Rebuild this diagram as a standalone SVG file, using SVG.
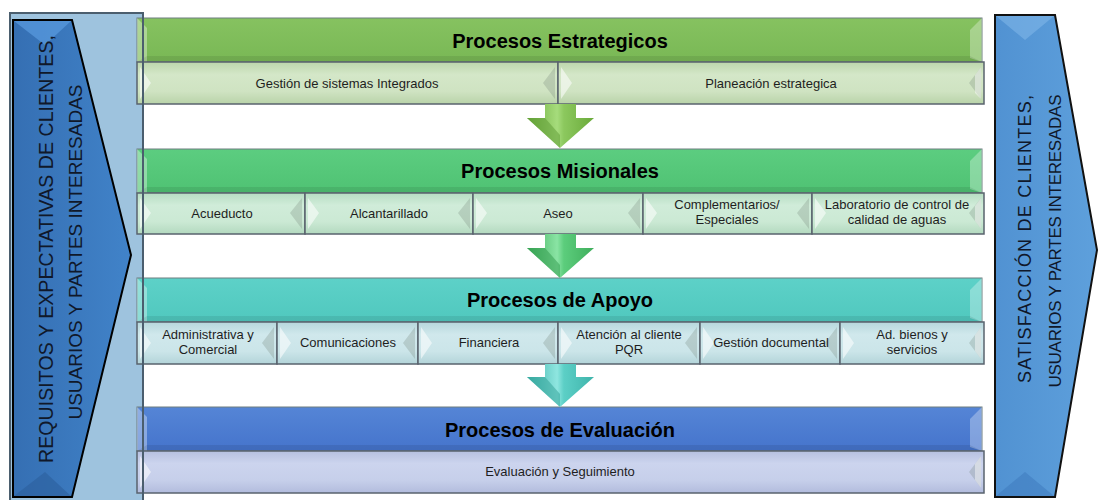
<svg xmlns="http://www.w3.org/2000/svg" width="1100" height="500" viewBox="0 0 1100 500">
<defs>
<style>
.hdrT{font-family:"Liberation Sans",Arial,sans-serif;font-weight:bold;font-size:20px;fill:#000;text-anchor:middle}
.subT{font-family:"Liberation Sans",Arial,sans-serif;font-size:13px;fill:#1e1e1e;text-anchor:middle}
.sideT{font-family:"Liberation Sans",Arial,sans-serif;fill:#10182a;text-anchor:middle}
.hdr{stroke:#6e7f80;stroke-width:1}
.sub{stroke:#59636e;stroke-width:1.5}
.bevL{fill:#ffffff;opacity:0.55}
.bevR{fill:#6a7a70;opacity:0.25}
.bevRl{fill:#ffffff;opacity:0.45}
.hbevL{fill:#ffffff;opacity:0.35}
.hbevR{fill:#ffffff;opacity:0.3}
.hbevB{fill:#000000;opacity:0.08}
</style>
<linearGradient id="gH1" x1="0" y1="0" x2="0" y2="1"><stop offset="0" stop-color="#86c260"/><stop offset="1" stop-color="#79b855"/></linearGradient>
<linearGradient id="gH2" x1="0" y1="0" x2="0" y2="1"><stop offset="0" stop-color="#5ccd80"/><stop offset="1" stop-color="#4fc273"/></linearGradient>
<linearGradient id="gH3" x1="0" y1="0" x2="0" y2="1"><stop offset="0" stop-color="#5dd1c8"/><stop offset="1" stop-color="#50c8be"/></linearGradient>
<linearGradient id="gH4" x1="0" y1="0" x2="0" y2="1"><stop offset="0" stop-color="#5585d6"/><stop offset="1" stop-color="#4574cc"/></linearGradient>
<linearGradient id="gS1" x1="0" y1="0" x2="0" y2="1"><stop offset="0" stop-color="#bcd6ac"/><stop offset="0.3" stop-color="#d4e7c8"/><stop offset="0.7" stop-color="#cfe3c2"/><stop offset="1" stop-color="#b9d3a9"/></linearGradient>
<linearGradient id="gS2" x1="0" y1="0" x2="0" y2="1"><stop offset="0" stop-color="#b6ddc2"/><stop offset="0.3" stop-color="#d0ecd9"/><stop offset="0.7" stop-color="#cbe9d4"/><stop offset="1" stop-color="#b3d9bf"/></linearGradient>
<linearGradient id="gS3" x1="0" y1="0" x2="0" y2="1"><stop offset="0" stop-color="#b6d7dc"/><stop offset="0.3" stop-color="#d0e8ec"/><stop offset="0.7" stop-color="#cbe5e9"/><stop offset="1" stop-color="#b3d4d9"/></linearGradient>
<linearGradient id="gS4" x1="0" y1="0" x2="0" y2="1"><stop offset="0" stop-color="#b6c0e0"/><stop offset="0.3" stop-color="#ccd4ee"/><stop offset="0.7" stop-color="#c6cfea"/><stop offset="1" stop-color="#b2bcdd"/></linearGradient>
<linearGradient id="gLP" x1="0" y1="0" x2="1" y2="0"><stop offset="0" stop-color="#356fb3"/><stop offset="1" stop-color="#4183c9"/></linearGradient>
<linearGradient id="gRP" x1="0" y1="0" x2="1" y2="0"><stop offset="0" stop-color="#5192d2"/><stop offset="1" stop-color="#5ea0dc"/></linearGradient>
<linearGradient id="gA1" x1="0" y1="0" x2="1" y2="0"><stop offset="0" stop-color="#6aaa3a"/><stop offset="0.45" stop-color="#a6dc7c"/><stop offset="0.55" stop-color="#8cc85e"/><stop offset="1" stop-color="#6aaa3a"/></linearGradient>
<linearGradient id="gA2" x1="0" y1="0" x2="1" y2="0"><stop offset="0" stop-color="#3fae5c"/><stop offset="0.45" stop-color="#8ae4a4"/><stop offset="0.55" stop-color="#5ccd7c"/><stop offset="1" stop-color="#3fae5c"/></linearGradient>
<linearGradient id="gA3" x1="0" y1="0" x2="1" y2="0"><stop offset="0" stop-color="#3fb4ab"/><stop offset="0.45" stop-color="#8fe6e0"/><stop offset="0.55" stop-color="#5ccfc6"/><stop offset="1" stop-color="#3fb4ab"/></linearGradient>
</defs>
<rect x="0" y="0" width="1100" height="500" fill="#ffffff"/>

<g id="left-panel">
<rect x="10" y="13" width="133" height="490" fill="#9ec3de"/>
<polygon points="13,20 72,20 131,255 72,497 13,497" fill="url(#gLP)" stroke="#000" stroke-width="2"/>
<polygon points="14,21 71,21 45,45" fill="#5a9be0" opacity="0.7"/>
<polygon points="14,496 71,496 45,472" fill="#2c5f9c" opacity="0.6"/>
<text class="sideT" font-size="19.5" transform="translate(53,249) rotate(-90)" textLength="428" lengthAdjust="spacing">REQUISITOS Y EXPECTATIVAS DE CLIENTES,</text>
<text class="sideT" font-size="19" transform="translate(82,252) rotate(-90)" textLength="335" lengthAdjust="spacing">USUARIOS Y PARTES INTERESADAS</text>
</g>

<g id="right-panel">
<polygon points="995,15 1055,15 1097,250 1055,497 995,497" fill="url(#gRP)" stroke="#111" stroke-width="2"/>
<polygon points="996,16 1054,16 1025,40" fill="#7fb6e8" opacity="0.6"/>
<polygon points="996,496 1054,496 1025,472" fill="#3b78bb" opacity="0.5"/>
<text class="sideT" font-size="18" transform="translate(1031,239) rotate(-90)" textLength="288" lengthAdjust="spacing">SATISFACCIÓN DE CLIENTES,</text>
<text class="sideT" font-size="17" transform="translate(1061,241) rotate(-90)" textLength="293" lengthAdjust="spacing">USUARIOS Y PARTES INTERESADAS</text>
</g>

<g id="estrategicos">
<rect class="hdr" x="137" y="18" width="845" height="44" fill="url(#gH1)"/>
<polygon class="hbevL" points="137,18 147,28 147,62 137,62"/>
<polygon class="hbevR" points="982,18 970,30 970,58 982,62"/>
<polygon class="hbevB" points="137,62 147,56 970,56 982,62"/>
<text class="hdrT" x="560" y="48">Procesos Estrategicos</text>
<g id="gestion-sistemas">
<rect class="sub" x="137" y="62" width="421" height="42" fill="url(#gS1)"/>
<polygon class="bevL" points="140,67 151,83 140,99"/>
<polygon class="bevR" points="555,67 543,83 555,99"/>
<text class="subT" x="347" y="88">Gestión de sistemas Integrados</text>
</g>
<g id="planeacion">
<rect class="sub" x="558" y="62" width="426" height="42" fill="url(#gS1)"/>
<polygon class="bevL" points="561,67 572,83 561,99"/>
<polygon class="bevR" points="981,67 969,83 981,99"/>
<polygon class="bevRl" points="981,67 975,75 975,93 981,99"/>
<text class="subT" x="771" y="88">Planeación estrategica</text>
</g>
</g>

<g id="misionales">
<rect class="hdr" x="137" y="149" width="845" height="44" fill="url(#gH2)"/>
<polygon class="hbevL" points="137,149 147,159 147,193 137,193"/>
<polygon class="hbevR" points="982,149 970,161 970,189 982,193"/>
<polygon class="hbevB" points="137,193 147,187 970,187 982,193"/>
<text class="hdrT" x="560" y="178">Procesos Misionales</text>
<g id="acueducto">
<rect class="sub" x="137" y="193" width="168" height="41" fill="url(#gS2)"/>
<polygon class="bevL" points="140,198 151,213 140,229"/>
<polygon class="bevR" points="302,198 290,213 302,229"/>
<text class="subT" x="222" y="218">Acueducto</text>
</g>
<g id="alcantarillado">
<rect class="sub" x="305" y="193" width="168" height="41" fill="url(#gS2)"/>
<polygon class="bevL" points="308,198 319,213 308,229"/>
<polygon class="bevR" points="470,198 458,213 470,229"/>
<text class="subT" x="389" y="218">Alcantarillado</text>
</g>
<g id="aseo">
<rect class="sub" x="473" y="193" width="170" height="41" fill="url(#gS2)"/>
<polygon class="bevL" points="476,198 487,213 476,229"/>
<polygon class="bevR" points="640,198 628,213 640,229"/>
<text class="subT" x="558" y="218">Aseo</text>
</g>
<g id="complementarios">
<rect class="sub" x="643" y="193" width="169" height="41" fill="url(#gS2)"/>
<polygon class="bevL" points="646,198 657,213 646,229"/>
<polygon class="bevR" points="809,198 797,213 809,229"/>
<text class="subT" x="727" y="209">Complementarios/</text>
<text class="subT" x="727" y="224">Especiales</text>
</g>
<g id="laboratorio">
<rect class="sub" x="812" y="193" width="172" height="41" fill="url(#gS2)"/>
<polygon class="bevL" points="815,198 826,213 815,229"/>
<polygon class="bevR" points="981,198 969,213 981,229"/>
<polygon class="bevRl" points="981,198 975,206 975,221 981,229"/>
<text class="subT" x="897" y="209">Laboratorio de control de</text>
<text class="subT" x="897" y="224">calidad de aguas</text>
</g>
</g>

<g id="apoyo">
<rect class="hdr" x="137" y="278" width="845" height="44" fill="url(#gH3)"/>
<polygon class="hbevL" points="137,278 147,288 147,322 137,322"/>
<polygon class="hbevR" points="982,278 970,290 970,318 982,322"/>
<polygon class="hbevB" points="137,322 147,316 970,316 982,322"/>
<text class="hdrT" x="560" y="307">Procesos de Apoyo</text>
<g id="administrativa">
<rect class="sub" x="137" y="322" width="140" height="42" fill="url(#gS3)"/>
<polygon class="bevL" points="140,327 151,343 140,359"/>
<polygon class="bevR" points="274,327 262,343 274,359"/>
<text class="subT" x="208" y="339">Administrativa y</text>
<text class="subT" x="208" y="354">Comercial</text>
</g>
<g id="comunicaciones">
<rect class="sub" x="277" y="322" width="141" height="42" fill="url(#gS3)"/>
<polygon class="bevL" points="280,327 291,343 280,359"/>
<polygon class="bevR" points="415,327 403,343 415,359"/>
<text class="subT" x="348" y="347">Comunicaciones</text>
</g>
<g id="financiera">
<rect class="sub" x="418" y="322" width="140" height="42" fill="url(#gS3)"/>
<polygon class="bevL" points="421,327 432,343 421,359"/>
<polygon class="bevR" points="555,327 543,343 555,359"/>
<text class="subT" x="489" y="347">Financiera</text>
</g>
<g id="atencion">
<rect class="sub" x="558" y="322" width="142" height="42" fill="url(#gS3)"/>
<polygon class="bevL" points="561,327 572,343 561,359"/>
<polygon class="bevR" points="697,327 685,343 697,359"/>
<text class="subT" x="629" y="339">Atención al cliente</text>
<text class="subT" x="629" y="354">PQR</text>
</g>
<g id="gestion-documental">
<rect class="sub" x="700" y="322" width="140" height="42" fill="url(#gS3)"/>
<polygon class="bevL" points="703,327 714,343 703,359"/>
<polygon class="bevR" points="837,327 825,343 837,359"/>
<text class="subT" x="771" y="347">Gestión documental</text>
</g>
<g id="bienos-servicios">
<rect class="sub" x="840" y="322" width="144" height="42" fill="url(#gS3)"/>
<polygon class="bevL" points="843,327 854,343 843,359"/>
<polygon class="bevR" points="981,327 969,343 981,359"/>
<polygon class="bevRl" points="981,327 975,335 975,351 981,359"/>
<text class="subT" x="912" y="339">Ad. bienos y</text>
<text class="subT" x="912" y="354">servicios</text>
</g>
</g>

<g id="evaluacion">
<rect class="hdr" x="137" y="407" width="845" height="44" fill="url(#gH4)"/>
<polygon class="hbevL" points="137,407 147,417 147,451 137,451"/>
<polygon class="hbevR" points="982,407 970,419 970,447 982,451"/>
<polygon class="hbevB" points="137,451 147,445 970,445 982,451"/>
<text class="hdrT" x="560" y="437">Procesos de Evaluación</text>
<g id="evaluacion-seguimiento">
<rect class="sub" x="137" y="451" width="847" height="42" fill="url(#gS4)"/>
<polygon class="bevL" points="140,456 151,472 140,488"/>
<polygon class="bevR" points="981,456 969,472 981,488"/>
<polygon class="bevRl" points="981,456 975,464 975,480 981,488"/>
<text class="subT" x="560" y="476">Evaluación y Seguimiento</text>
</g>
</g>

<g id="left-panel-border">
<rect x="10" y="13" width="133" height="490" fill="none" stroke="#4b5e6e" stroke-width="2"/>
</g>

<g id="connectors">
<polygon points="545,104 576,104 576,118 594,118 560,148 527,118 545,118" fill="url(#gA1)"/>
<polygon points="527,118 545,118 560,135 560,148" fill="#5e9a33" opacity="0.5"/>
<polygon points="545,234 576,234 576,248 594,248 560,278 527,248 545,248" fill="url(#gA2)"/>
<polygon points="527,248 545,248 560,265 560,278" fill="#2f9a4c" opacity="0.5"/>
<polygon points="545,364 576,364 576,377 594,377 560,407 527,377 545,377" fill="url(#gA3)"/>
<polygon points="527,377 545,377 560,394 560,407" fill="#2fa096" opacity="0.5"/>
</g>
</svg>
